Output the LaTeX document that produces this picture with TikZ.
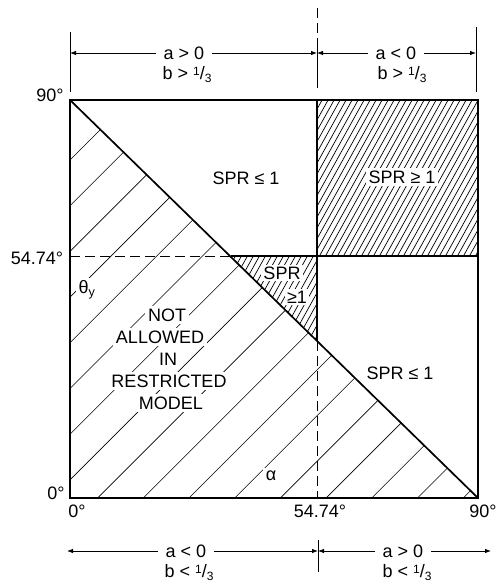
\documentclass[tikz,border=0pt]{standalone}
\usepackage{fontspec}
\setmainfont{Liberation Sans}
\usetikzlibrary{arrows.meta}
\newcommand{\onethird}{\raisebox{4pt}{\fontsize{12}{12}\selectfont 1}/\raisebox{-3pt}{\fontsize{12}{12}\selectfont 3}}

\begin{document}
\begin{tikzpicture}[
    x=1pt, y=-1pt,
    every node/.style={font=\fontsize{18}{22}\selectfont, inner sep=1pt},
    frame/.style={line width=1.7pt},
    thinhatch/.style={line width=0.6pt},
    densehatch/.style={line width=0.7pt},
    dimline/.style={line width=0.8pt},
    dimarrow/.style={dimline, -{Latex[length=6pt,width=4.5pt]}},
    blank/.style={fill=white, inner sep=3pt},
    lbl/.style={fill=white, inner xsep=8pt, inner ysep=0pt},
    cut/.style={dimline, dash pattern=on 10pt off 5pt}
]
\useasboundingbox (0,0) rectangle (498,583);
\coordinate (tl) at (70,100);
\coordinate (tr) at (478,100);
\coordinate (bl) at (70,498);
\coordinate (br) at (478,498);
\coordinate (mt) at (317,100);
\coordinate (mm) at (317,256);
\coordinate (md) at (317,341);
\coordinate (mb) at (317,498);
\coordinate (lm) at (70,256);
\coordinate (dm) at (231,256);
\coordinate (rm) at (478,256);

\begin{scope}
  \clip (tl) -- (br) -- (bl) -- cycle;
  \foreach \s in {0,...,16}
    \draw[thinhatch] ({230+45.7*\s-600},600) -- ++(700,-700);
\end{scope}
\begin{scope}
  \clip (mt) rectangle (rm) (dm) -- (mm) -- (md) -- cycle;
  \foreach \s in {150,156,...,486}
    \draw[densehatch] (\s,345) -- ++(140,-252);
\end{scope}

\node[blank] (sprA) at (246,178) {SPR ≤ 1};
\node[blank] (sprB) at (402,177) {SPR ≥ 1};
\node[blank, inner sep=2pt] (sprC) at (282,273) {SPR};
\node[blank, inner sep=2pt] (sprD) at (297,297) {≥1};
\node[blank] (sprE) at (400,373) {SPR ≤ 1};
\foreach \x/\t [count=\k] in {167/NOT,160/ALLOWED,168/IN,169/RESTRICTED,171/MODEL}
  \node[blank] (na\k) at (\x,293+22*\k) {\t};
\node[blank] (theta) at (87,290) {θ\textsubscript{y}};
\node[blank] (alpha) at (271,476) {α};

\draw[frame] (tl) rectangle (br);
\draw[frame] (tl) -- (br);
\draw[frame] (mt) -- (md);
\draw[frame] (dm) -- (rm);
\draw[cut] (lm) -- (dm);
\draw[cut] (md) -- (mb);

\node (ytop) at (50,95) {90°};
\node (ymid) at (37,258) {54.74°};
\node (ybot) at (56,493) {0°};
\node (xlft) at (77,511) {0°};
\node (xmid) at (320,511) {54.74°};
\node (xrgt) at (483,511) {90°};

\coordinate (etl) at (70,32);
\coordinate (ebl) at (70,92);
\coordinate (etr) at (476,27);
\coordinate (ebr) at (476,92);
\coordinate (etm) at (317,8);
\coordinate (ecm) at (317,46);
\coordinate (ebm) at (317,88);
\draw[dimline] (etl) -- (ebl);
\draw[dimline] (etr) -- (ebr);
\draw[cut] (etm) -- (ecm);
\draw[dimline] (ecm) -- (ebm);
\coordinate (tdl) at (70,53);
\coordinate (tdm) at (317,53);
\coordinate (tdr) at (476,53);
\node[lbl] (ta) at (184,53) {a > 0};
\node[anchor=base] (tb) at (187,80) {b > \onethird};
\node[lbl] (tc) at (396,53) {a < 0};
\node[anchor=base] (td) at (402,80) {b > \onethird};
\draw[dimarrow] (ta) -- (tdl);
\draw[dimarrow] (ta) -- (tdm);
\draw[dimarrow] (tc) -- (tdm);
\draw[dimarrow] (tc) -- (tdr);

\coordinate (btk) at (318,540);
\coordinate (bbk) at (318,572);
\draw[dimline] (btk) -- (bbk);
\coordinate (bdl) at (67,551);
\coordinate (bdm) at (318,551);
\coordinate (bdr) at (491,551);
\node[lbl] (ba) at (186,551) {a < 0};
\node[anchor=base] (bb) at (189,577) {b < \onethird};
\node[lbl] (bc) at (403,551) {a > 0};
\node[anchor=base] (bd) at (407,577) {b < \onethird};
\draw[dimarrow] (ba) -- (bdl);
\draw[dimarrow] (ba) -- (bdm);
\draw[dimarrow] (bc) -- (bdm);
\draw[dimarrow] (bc) -- (bdr);
\end{tikzpicture}
\end{document}
